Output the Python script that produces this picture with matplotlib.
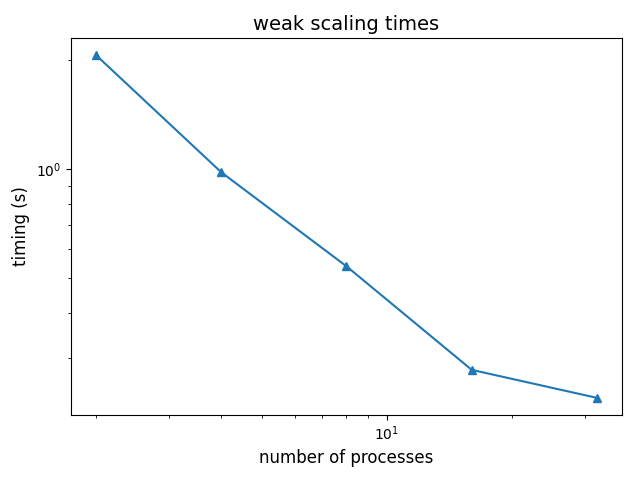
import matplotlib
matplotlib.use("Agg")
import matplotlib.pyplot as plt

processes = [2, 4, 8, 16, 32]
timings = [2.064, 0.980, 0.539, 0.279, 0.2335]

fig, ax = plt.subplots(figsize=(6.4, 4.8), dpi=100)
ax.plot(processes, timings, marker='^', color='#1f77b4')
ax.set_xscale('log')
ax.set_yscale('log')
ax.set_title('weak scaling times', fontsize=14)
ax.set_xlabel('number of processes', fontsize=12)
ax.set_ylabel('timing (s)', fontsize=12)
fig.subplots_adjust(left=71/640, right=622/640, top=1-38/480, bottom=1-415/480)
fig.savefig('out.png', dpi=100)
